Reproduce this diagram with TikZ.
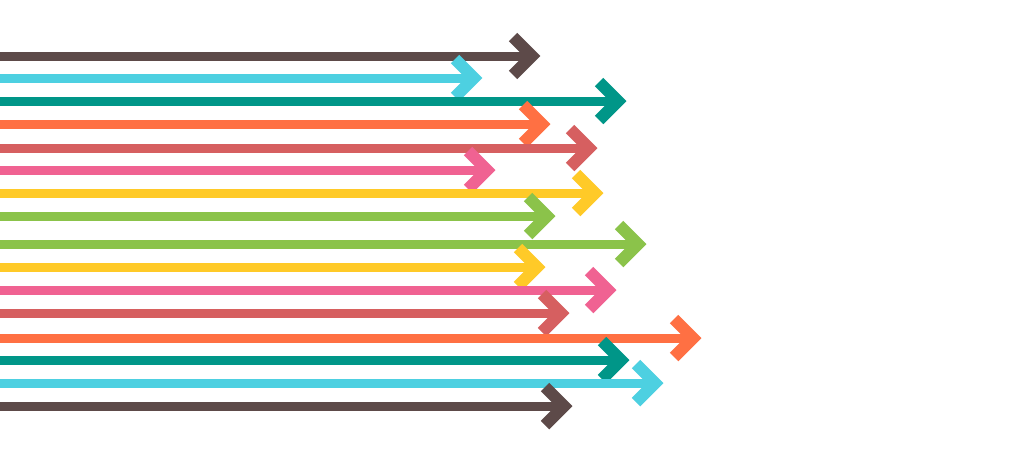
\documentclass[tikz,border=0pt]{standalone}
\begin{document}
\begin{tikzpicture}[x=1pt,y=-1pt]
\definecolor{cbrown}{HTML}{5D4A49}
\definecolor{ccyan}{HTML}{4DD0E1}
\definecolor{cteal}{HTML}{009688}
\definecolor{corange}{HTML}{FF7043}
\definecolor{cred}{HTML}{D65F60}
\definecolor{cpink}{HTML}{F06292}
\definecolor{cyellow}{HTML}{FFCA28}
\definecolor{cgreen}{HTML}{8BC34A}
\useasboundingbox[fill=white] (0,0) rectangle (1024,456);
\tikzset{shaft/.style={line width=9pt,line cap=butt},
 head/.style={line width=12pt,line cap=butt,line join=miter}}
\foreach \y/\t/\c in {56/541/cbrown,78/483/ccyan,101/627/cteal,124/551/corange,148/598/cred,170/496/cpink,193/604/cyellow,216/556/cgreen,244/647/cgreen,267/546/cyellow,290/617/cpink,313/570/cred,338/702/corange,360/630/cteal,383/664/ccyan,406/573/cbrown}{
  \draw[shaft,\c] (0,\y) -- (\t-12,\y);
  \draw[head,\c] (\t-28,\y-19) -- (\t-9,\y) -- (\t-28,\y+19);
}
\end{tikzpicture}
\end{document}
